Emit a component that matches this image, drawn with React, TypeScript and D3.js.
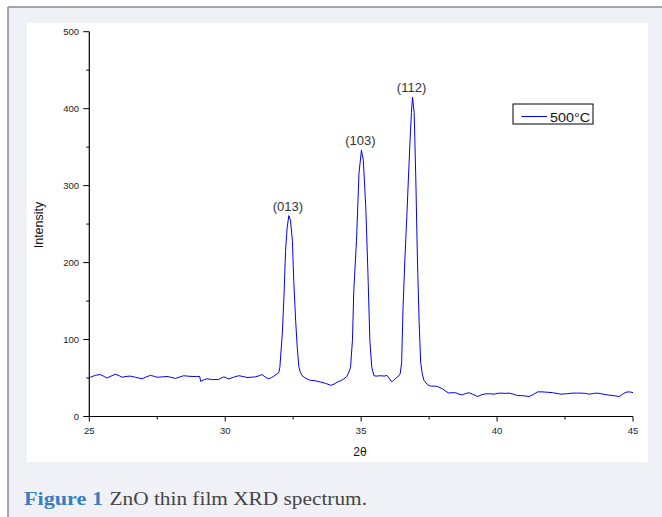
import React from "react";
import * as d3 from "d3";

const twoTheta = [
  25.0, 25.04, 25.22, 25.4, 25.55, 25.65, 25.8, 25.96, 26.1, 26.2, 26.35, 26.5, 26.7, 26.94, 27.1, 27.25, 27.4, 27.5, 27.7, 27.86,
  28.0, 28.17, 28.3, 28.47, 28.6, 28.78, 28.95, 29.06, 29.1, 29.2, 29.33, 29.5, 29.62, 29.76, 29.85, 29.95, 30.05, 30.13, 30.3, 30.5,
  30.65, 30.8, 30.95, 31.11, 31.25, 31.36, 31.48, 31.6, 31.7, 31.79, 31.91, 31.97, 32.01, 32.1, 32.16, 32.22, 32.28, 32.34, 32.4, 32.47,
  32.52, 32.59, 32.65, 32.71, 32.77, 32.83, 32.95, 33.05, 33.14, 33.3, 33.51, 33.7, 33.88, 34.0, 34.12, 34.25, 34.37, 34.47, 34.55, 34.61,
  34.68, 34.73, 34.83, 34.92, 35.01, 35.08, 35.17, 35.25, 35.32, 35.39, 35.47, 35.55, 35.72, 35.85, 35.95, 36.02, 36.1, 36.15, 36.25, 36.39,
  36.44, 36.49, 36.54, 36.61, 36.68, 36.74, 36.8, 36.85, 36.89, 36.95, 37.01, 37.07, 37.13, 37.19, 37.25, 37.31, 37.45, 37.56, 37.7, 37.81,
  37.99, 38.1, 38.23, 38.35, 38.48, 38.6, 38.73, 38.85, 38.97, 39.1, 39.28, 39.45, 39.59, 39.75, 39.89, 40.0, 40.14, 40.3, 40.44, 40.6,
  40.75, 40.95, 41.18, 41.35, 41.49, 41.65, 41.85, 42.04, 42.2, 42.35, 42.55, 42.78, 42.95, 43.09, 43.25, 43.39, 43.55, 43.7, 43.9, 44.07,
  44.3, 44.5, 44.62, 44.74, 44.88, 45.0,
];

const intensity = [
  51, 51, 53.5, 54.5, 52, 50, 52.5, 55, 53, 51, 52, 52.5, 51, 49, 51.5, 53.5, 52, 51, 51.5, 52,
  51, 49.5, 51, 53, 52.5, 52, 52, 52, 45.5, 47.5, 49, 48, 48, 48, 50, 51.5, 50, 48.8, 51, 53,
  52, 50.7, 51, 51.5, 53, 54.5, 51, 49, 50.5, 52.5, 55.5, 57, 64, 108, 155, 216, 246, 261, 255, 229,
  177, 125, 90, 64, 57, 53, 50, 48, 47, 46.5, 44.7, 43, 40.5, 42, 44.7, 46.5, 49, 52, 57.7, 64,
  99, 164, 229, 316, 346, 333, 272, 186, 99, 64, 53, 52.5, 53, 52.5, 53.5, 50, 46, 45.5, 49, 53,
  56, 70, 140, 205, 260, 310, 360, 395, 415, 395, 310, 205, 125, 70, 55, 47, 41, 39.5, 39.5, 39,
  36, 33, 30.4, 31, 30.8, 29, 28.2, 30, 30.8, 29, 26, 28.5, 29.5, 29.5, 29, 30, 30.4, 30, 30.4, 29,
  27.3, 27, 26, 29, 32, 32, 31.5, 31, 30, 29, 29.5, 30.4, 30.4, 30.4, 30, 29, 30, 30.4, 29, 28,
  27, 26, 29, 31.6, 32, 31,
];

const xTicks = [25, 30, 35, 40, 45];
const xMinorTicks = [27.5, 32.5, 37.5, 42.5];
const yTicks = [0, 100, 200, 300, 400, 500];
const yMinorTicks = [50, 150, 250, 350, 450];

const peakLabels = ["(013)", "(103)", "(112)"];
const peakPositions = [32.34, 35.01, 36.89];
const peakHeights = [261, 346, 415];

const seriesName = "500°C";
const xTitle = "2θ";
const yTitle = "Intensity";
const captionBold = "Figure 1";
const captionRest = "ZnO thin film XRD spectrum.";

export default function App() {
  const W = 662;
  const H = 517;
  const x = d3.scaleLinear().domain([25, 45]).range([89.3, 633]);
  const y = d3.scaleLinear().domain([0, 500]).range([416.5, 31.7]);
  const pts: [number, number][] = twoTheta.map((t, i) => [t, intensity[i]]);
  const line = d3
    .line<[number, number]>()
    .x((d) => x(d[0]))
    .y((d) => y(d[1]));
  const sans = "'Liberation Sans', Arial, sans-serif";
  const serif = "'Liberation Serif', 'Times New Roman', serif";

  return (
    <svg
      width={W}
      height={H}
      style={{ position: "absolute", left: 0, top: 0, background: "#ffffff" }}
    >
      {/* outer figure box */}
      <rect x={8} y={7} width={W - 8} height={H - 7} fill="#f0f1f7" />
      <line x1={8} y1={7} x2={W} y2={7} stroke="#8a8a8a" strokeWidth={1.5} />
      <line x1={8} y1={7} x2={8} y2={H} stroke="#8a8a8a" strokeWidth={1.5} />
      {/* white plot panel */}
      <rect x={27} y={23} width={621} height={439} fill="#ffffff" />

      {/* data line */}
      <path d={line(pts) || ""} fill="none" stroke="#0000ff" strokeWidth={1} />

      {/* axes */}
      <line x1={x(25)} y1={y(0)} x2={x(45)} y2={y(0)} stroke="#000" strokeWidth={1.2} />
      <line x1={x(25)} y1={y(0)} x2={x(25)} y2={y(500)} stroke="#000" strokeWidth={1.2} />

      {xTicks.map((t) => (
        <g key={"xt" + t}>
          <line x1={x(t)} x2={x(t)} y1={y(0)} y2={y(0) + 5} stroke="#000" strokeWidth={1} />
          <text
            x={x(t)}
            y={434}
            textAnchor="middle"
            fontFamily={sans}
            fontSize={9.5}
            fill="#222"
          >
            {t}
          </text>
        </g>
      ))}
      {xMinorTicks.map((t) => (
        <line key={"xm" + t} x1={x(t)} x2={x(t)} y1={y(0)} y2={y(0) + 3} stroke="#000" strokeWidth={1} />
      ))}
      {yTicks.map((t) => (
        <g key={"yt" + t}>
          <line x1={x(25) - 6} x2={x(25)} y1={y(t)} y2={y(t)} stroke="#000" strokeWidth={1} />
          <text
            x={79}
            y={y(t) + 3.3}
            textAnchor="end"
            fontFamily={sans}
            fontSize={9.5}
            fill="#222"
          >
            {t}
          </text>
        </g>
      ))}
      {yMinorTicks.map((t) => (
        <line key={"ym" + t} x1={x(25) - 3} x2={x(25)} y1={y(t)} y2={y(t)} stroke="#000" strokeWidth={1} />
      ))}

      {/* axis titles */}
      <text x={360} y={456} textAnchor="middle" fontFamily={sans} fontSize={12} fill="#111">
        {xTitle}
      </text>
      <text
        transform={`translate(42.5,225) rotate(-90)`}
        textAnchor="middle"
        fontFamily={sans}
        fontSize={12.5}
        fill="#111"
      >
        {yTitle}
      </text>

      {/* peak labels */}
      {peakLabels.map((lab, i) => (
        <text
          key={lab}
          x={x(peakPositions[i]) - 1}
          y={y(peakHeights[i]) - 5}
          textAnchor="middle"
          fontFamily={sans}
          fontSize={13}
          fill="#333"
        >
          {lab}
        </text>
      ))}

      {/* legend */}
      <rect x={513} y={104} width={80} height={20} fill="#fff" stroke="#000" strokeWidth={1} />
      <line x1={521.5} x2={547} y1={116.5} y2={116.5} stroke="#0000ff" strokeWidth={1} />
      <text x={550} y={121.5} fontFamily={sans} fontSize={12} fill="#111" textLength={40} lengthAdjust="spacingAndGlyphs">
        {seriesName}
      </text>

      {/* caption */}
      <text
        x={24}
        y={505}
        fontFamily={serif}
        fontSize={19.5}
        fontWeight="bold"
        fill="#3a7cc0"
        textLength={79}
        lengthAdjust="spacingAndGlyphs"
      >
        {captionBold}
      </text>
      <text
        x={109.5}
        y={505}
        fontFamily={serif}
        fontSize={19.5}
        fill="#444"
        textLength={257.5}
        lengthAdjust="spacingAndGlyphs"
      >
        {captionRest}
      </text>
    </svg>
  );
}
